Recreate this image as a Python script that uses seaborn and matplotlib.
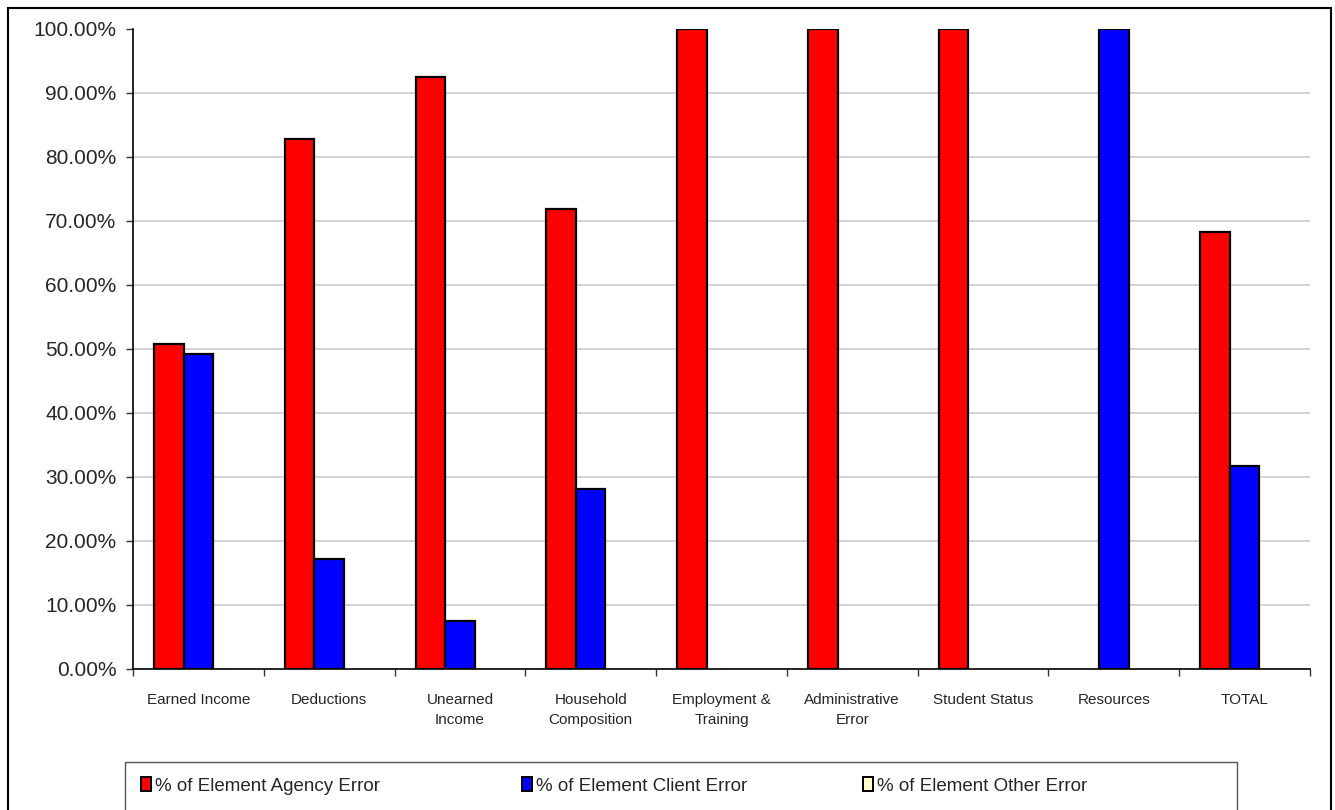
import matplotlib
matplotlib.use("Agg")
import matplotlib.pyplot as plt
from matplotlib.patches import Patch, Rectangle
from matplotlib.ticker import FixedLocator
import seaborn as sns
import pandas as pd

# Error elements and the share of each error source (percent)
categories = ["Earned Income", "Deductions", "Unearned\nIncome", "Household\nComposition",
              "Employment &\nTraining", "Administrative\nError", "Student Status",
              "Resources", "TOTAL"]
agency_error = [50.75, 82.86, 92.5, 71.9, 100.0, 100.0, 100.0, 0.0, 68.3]
client_error = [49.25, 17.14, 7.5, 28.1, 0.0, 0.0, 0.0, 100.0, 31.7]
other_error = [0.0, 0.0, 0.0, 0.0, 0.0, 0.0, 0.0, 0.0, 0.0]
series_names = ["% of Element Agency Error", "% of Element Client Error",
                "% of Element Other Error"]
series_colors = ["#FF0000", "#0000FF", "#FFFFCC"]
y_ticks = [0, 10, 20, 30, 40, 50, 60, 70, 80, 90, 100]

rows = []
for name, values in zip(series_names, [agency_error, client_error, other_error]):
    for cat, v in zip(categories, values):
        rows.append({"category": cat, "series": name, "value": v})
df = pd.DataFrame(rows)

sns.set_style("white")
plt.rcParams["font.family"] = ["Liberation Sans", "DejaVu Sans"]

W, H = 1335, 810
fig = plt.figure(figsize=(W / 100, H / 100), dpi=100)
ax = fig.add_axes([133 / W, 1 - 669 / H, (1310 - 133) / W, (669 - 29) / H])

sns.barplot(data=df, x="category", y="value", hue="series",
            order=categories, hue_order=series_names,
            palette=dict(zip(series_names, series_colors)),
            saturation=1, width=0.677, edgecolor="black", linewidth=1.6,
            legend=False, ax=ax, zorder=3)

# empty bars leave no outline on the baseline
for bar in ax.patches:
    if bar.get_height() == 0:
        bar.set_visible(False)

ax.set_xlim(-0.5, len(categories) - 0.5)
ax.set_ylim(0, 100)
ax.set_xlabel("")
ax.set_ylabel("")

# y axis: percent labels with two decimals and light gridlines
ax.set_yticks(y_ticks)
ax.set_yticklabels([f"{v:.2f}%" for v in y_ticks], fontsize=15)
ax.tick_params(axis="y", length=5, width=1, color="#333333", pad=7, left=True)
ax.yaxis.grid(True, color="#c8c8c8", linewidth=1.1, zorder=0)
ax.set_axisbelow(True)
ax.get_ygridlines()[-1].set_visible(False)
ax.get_ygridlines()[0].set_visible(False)

# x axis: labels at centres, tick marks between categories
ax.set_xticks(range(len(categories)))
ax.set_xticklabels(categories, fontsize=11, linespacing=1.6)
ax.tick_params(axis="x", which="major", length=0, pad=17)
ax.xaxis.set_minor_locator(FixedLocator([i - 0.5 for i in range(len(categories) + 1)]))
ax.tick_params(axis="x", which="minor", length=5, width=1, color="#333333", bottom=True)

for side in ["top", "right"]:
    ax.spines[side].set_visible(False)
for side in ["left", "bottom"]:
    ax.spines[side].set_color("black")
    ax.spines[side].set_linewidth(1.2)
    ax.spines[side].set_zorder(4)

# legend below the chart: one entry per series, spread across a boxed strip
entry_x = [141, 522, 863]
for name, color, x0 in zip(series_names, series_colors, entry_x):
    fig.legend([Patch(facecolor=color, edgecolor="black", linewidth=1.4)], [name],
               loc="center left", bbox_to_anchor=(x0 / W, 1 - 786 / H), frameon=False,
               fontsize=13.5, handlelength=0.55, handleheight=0.7, handletextpad=0.2,
               borderpad=0, borderaxespad=0)
fig.patches.append(Rectangle((125 / W, -0.05), (1237 - 125) / W, 0.05 + (810 - 762) / H,
                             transform=fig.transFigure, fill=False,
                             edgecolor="#555555", linewidth=1.0))

# outer chart border
fig.patches.append(Rectangle((8 / W, -0.05), (1331 - 8) / W, 0.05 + (810 - 8) / H,
                             transform=fig.transFigure, fill=False,
                             edgecolor="black", linewidth=1.5))

fig.savefig("out.png", dpi=100)
